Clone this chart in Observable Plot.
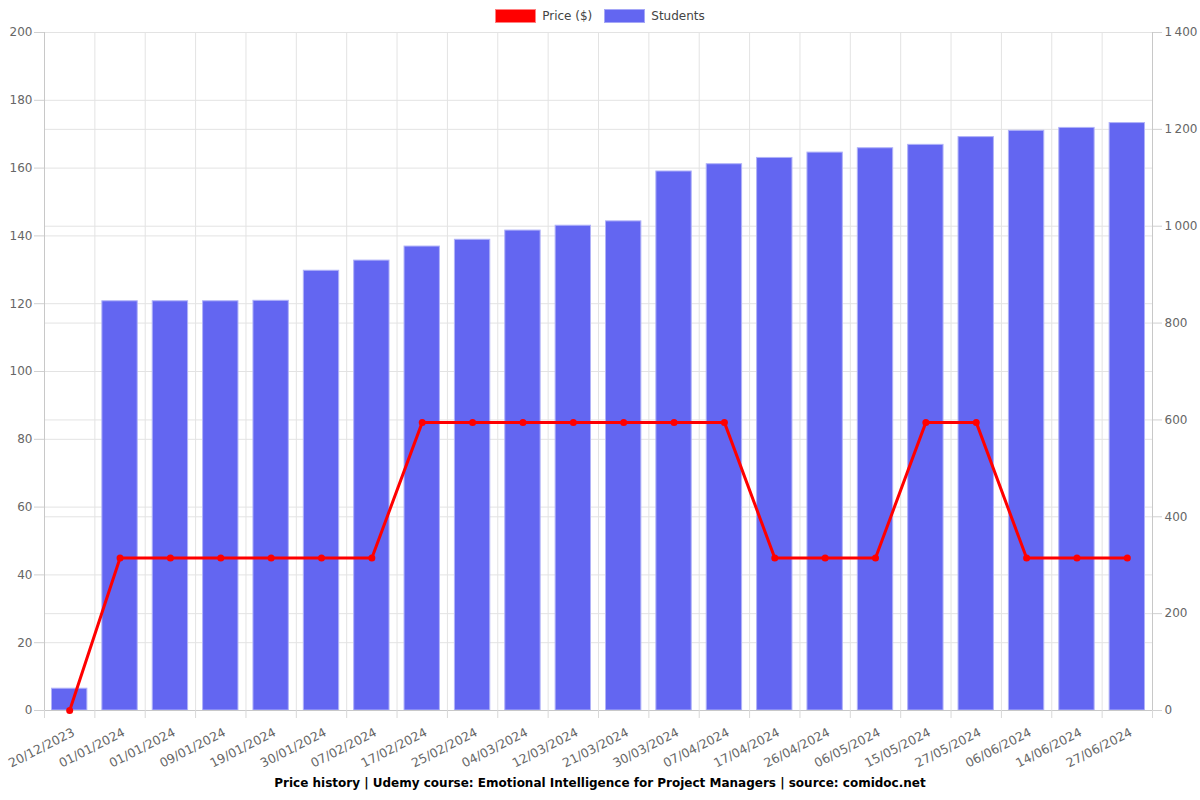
<!DOCTYPE html>
<html>
<head>
<meta charset="utf-8">
<script src="https://cdn.jsdelivr.net/npm/d3@7"></script>
<script src="https://cdn.jsdelivr.net/npm/@observablehq/plot@0.6"></script>
<style>
  html, body { margin: 0; padding: 0; background: #fff; }
  body { width: 1200px; height: 800px; font-family: "DejaVu Sans", sans-serif; position: relative; overflow: hidden; }
  #legend { height: 25px; display: flex; justify-content: center; align-items: center; padding-top: 7px; box-sizing: border-box; font-size: 12px; color: #444; }
  .item { display: flex; align-items: center; margin: 0 6px; }
  .sw { width: 41px; height: 14px; margin-right: 6px; box-sizing: border-box; }
  #title { position: absolute; left: 0; top: 770px; width: 1200px; height: 26px; line-height: 26px; text-align: center; font-weight: bold; font-size: 12px; color: #000; }
  #chart svg { display: block; overflow: visible; }
</style>
</head>
<body>
<div id="legend">
  <div class="item"><div class="sw" style="background:#ff0000;border:1px solid #ff8080"></div>Price ($)</div>
  <div class="item"><div class="sw" style="background:#6366f1;border:1px solid #a5a7f7"></div>Students</div>
</div>
<div id="chart"></div>
<div id="title">Price history | Udemy course: Emotional Intelligence for Project Managers | source: comidoc.net</div>
<script>
const dates = ["20/12/2023","01/01/2024","01/01/2024","09/01/2024","19/01/2024","30/01/2024","07/02/2024","17/02/2024","25/02/2024","04/03/2024","12/03/2024","21/03/2024","30/03/2024","07/04/2024","17/04/2024","26/04/2024","06/05/2024","15/05/2024","27/05/2024","06/06/2024","14/06/2024","27/06/2024"];
const students = [45,845,845,845,846,908,929,958,972,991,1001,1010,1113,1128,1141,1152,1161,1168,1184,1197,1203,1213];
const prices = [0,44.99,44.99,44.99,44.99,44.99,44.99,84.99,84.99,84.99,84.99,84.99,84.99,84.99,44.99,44.99,44.99,84.99,84.99,44.99,44.99,44.99];
const priceTicks = [0,20,40,60,80,100,120,140,160,180,200];
const studentTicks = [0,200,400,600,800,1000,1200,1400];

const priceMax = 200, studentMax = 1400;
const k = priceMax / studentMax;
const n = dates.length;
const rows = dates.map((d, i) => ({i, date: d, students: students[i], price: prices[i], sy: students[i] * k}));
const fmt = d3.formatLocale({decimal: ".", thousands: "\u2009", grouping: [3]}).format(",");
const gridColor = "#e3e3e3";

const chart = Plot.plot({
  width: 1200,
  height: 765,
  marginTop: 7,
  marginBottom: 80,
  marginLeft: 44,
  marginRight: 48,
  style: {fontFamily: "DejaVu Sans, sans-serif", fontSize: "12px", color: "#666"},
  x: {type: "linear", domain: [0, n]},
  y: {domain: [0, priceMax]},
  marks: [
    Plot.gridY(priceTicks, {stroke: gridColor, strokeOpacity: 1}),
    Plot.gridY(studentTicks.map(s => s * k), {stroke: gridColor, strokeOpacity: 1}),
    Plot.gridX(d3.range(n + 1), {stroke: gridColor, strokeOpacity: 1}),
    Plot.rectY(rows, {x1: "i", x2: d => d.i + 1, y: "sy", fill: "#6366f1", stroke: "#b0b2f8", strokeWidth: 1, insetLeft: 7.5, insetRight: 7.5}),
    Plot.ruleX([0, n], {stroke: "#c8c8c8"}),
    Plot.ruleY([0], {stroke: "#c8c8c8"}),
    Plot.line(rows, {x: d => d.i + 0.5, y: "price", stroke: "#ff0000", strokeWidth: 3}),
    Plot.dot(rows, {x: d => d.i + 0.5, y: "price", fill: "#ff0000", r: 3.5}),
    Plot.axisY(priceTicks, {anchor: "left", tickSize: 10, tickPadding: 2, stroke: "#d0d0d0", fill: "#666", label: null}),
    Plot.axisY(studentTicks.map(s => s * k), {anchor: "right", tickSize: 9, tickPadding: 3, stroke: "#d0d0d0", fill: "#666", label: null, tickFormat: v => fmt(Math.round(v / k))}),
    Plot.axisX(d3.range(n + 1), {tickSize: 8, tickFormat: () => "", stroke: "#d8d8d8", label: null}),
    Plot.axisX(d3.range(n).map(i => i + 0.5), {tickSize: 0, tickPadding: 8, dy: 13, dx: 4, tickRotate: -27, fill: "#666", fontSize: 12.5, label: null, tickFormat: v => dates[Math.floor(v)]})
  ]
});
document.getElementById("chart").appendChild(chart);
</script>
</body>
</html>
